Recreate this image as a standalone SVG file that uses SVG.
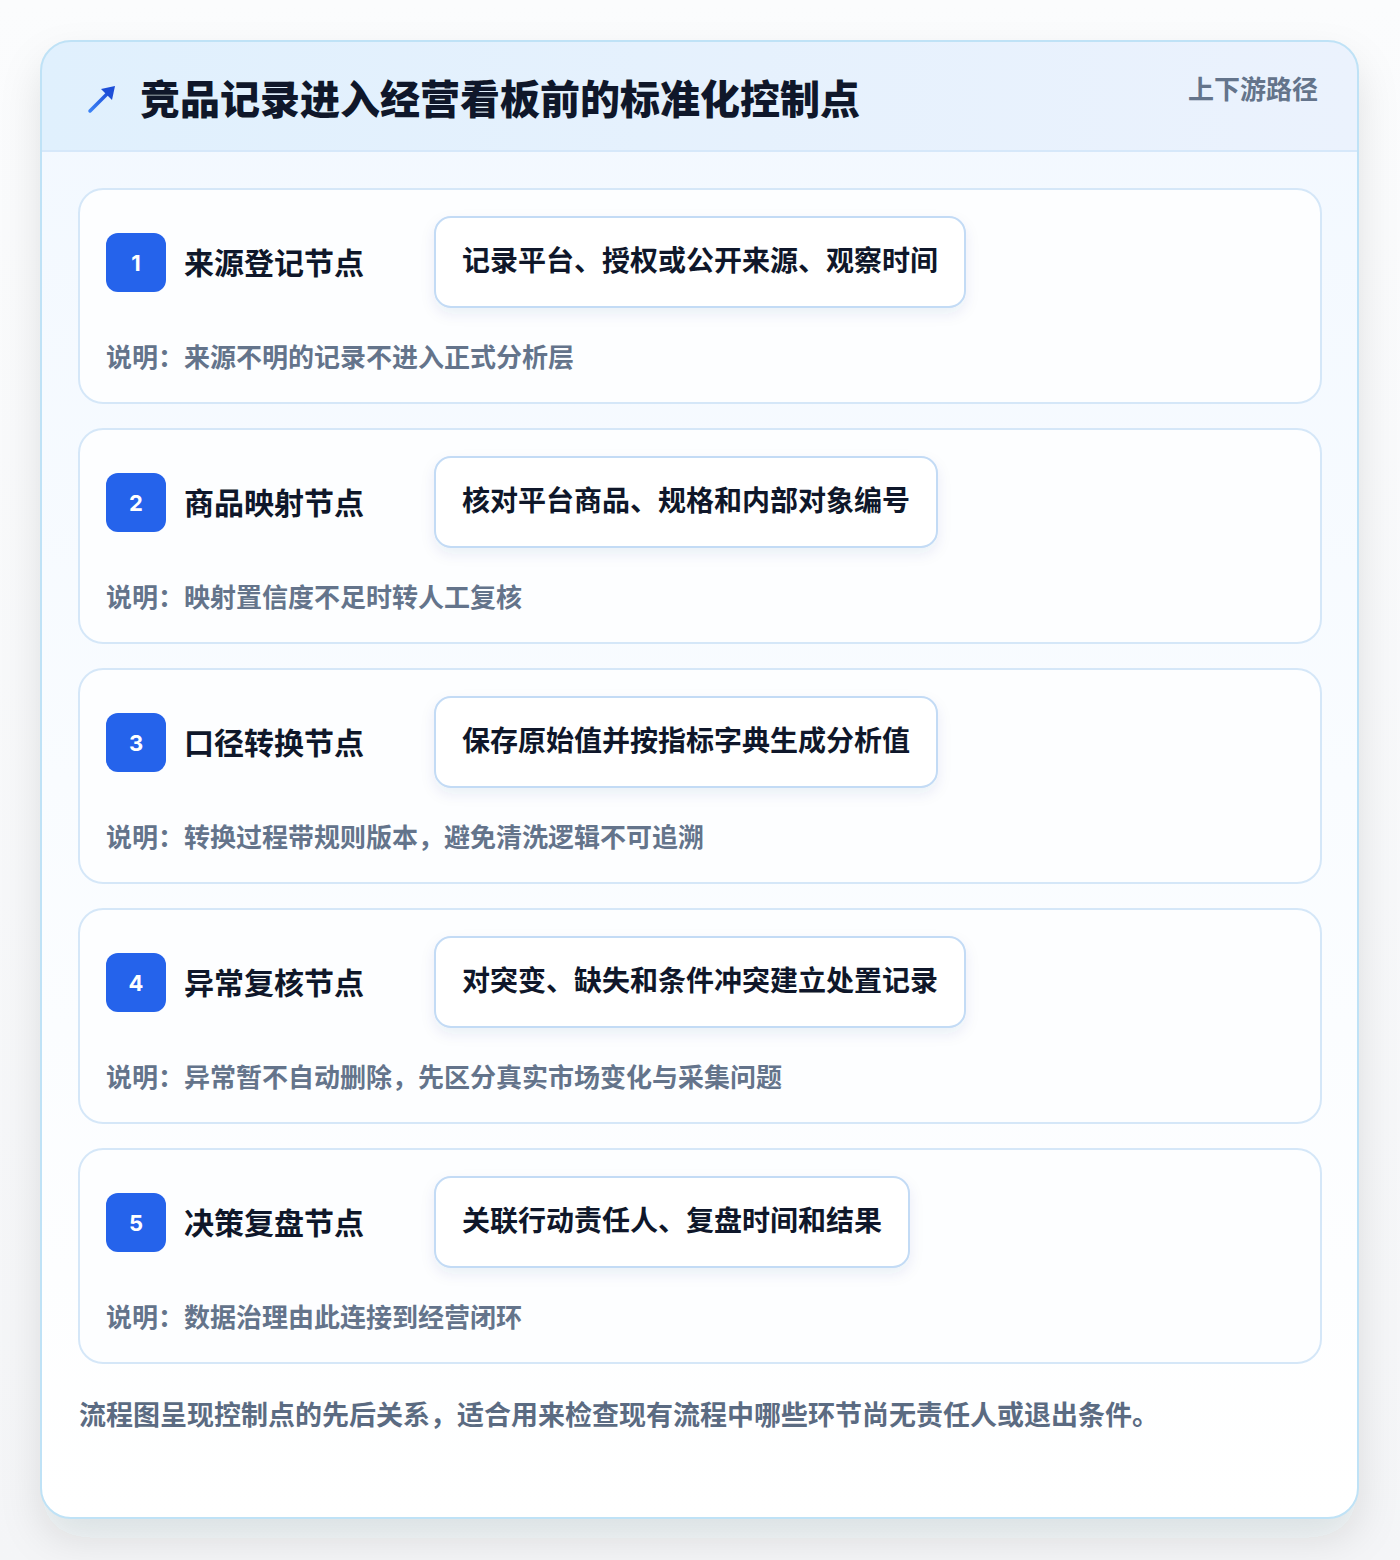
<svg xmlns="http://www.w3.org/2000/svg" width="1400" height="1560" viewBox="0 0 1400 1560">
<defs>
<linearGradient id="pageBg" x1="0" y1="0" x2="0" y2="1"><stop offset="0" stop-color="#fbfcfd"/><stop offset="1" stop-color="#f4f5f7"/></linearGradient>
<linearGradient id="cardBg" x1="0" y1="0" x2="0" y2="1"><stop offset="0" stop-color="#f2f8ff"/><stop offset="0.5" stop-color="#f9fcff"/><stop offset="1" stop-color="#ffffff"/></linearGradient>
<linearGradient id="headBg" x1="0" y1="0" x2="1" y2="0"><stop offset="0" stop-color="#e0f0fd"/><stop offset="1" stop-color="#ebf2fd"/></linearGradient>
<linearGradient id="arrowG" x1="0" y1="1" x2="1" y2="0"><stop offset="0" stop-color="#3b82f6"/><stop offset="1" stop-color="#1d4ed8"/></linearGradient>
<clipPath id="cardClip"><rect x="41" y="41" width="1317" height="1477" rx="30"/></clipPath>
<filter id="cardShadow" x="-10%" y="-10%" width="120%" height="120%"><feDropShadow dx="0" dy="20" stdDeviation="20" flood-color="#1f2937" flood-opacity="0.11"/></filter>
<filter id="pillShadow" x="-10%" y="-30%" width="120%" height="170%"><feDropShadow dx="0" dy="6" stdDeviation="7" flood-color="#1e3a8a" flood-opacity="0.08"/></filter>
<style>
.node-card{fill:#fdfeff;stroke:#d5e7f8;stroke-width:2}
.badge{fill:#2563eb}
.num{font-family:"Inter","Liberation Sans",sans-serif;font-weight:700;font-size:22px;fill:#ffffff;text-anchor:middle}
.title{font-family:"Noto Sans CJK SC","Noto Sans",sans-serif;font-weight:700;font-size:30px;fill:#0f172a}
.pill{fill:#ffffff;stroke:#c3dbf5;stroke-width:2}
.pilltxt{font-family:"Noto Sans CJK SC","Noto Sans",sans-serif;font-weight:700;font-size:28px;fill:#0f172a}
.desc{font-family:"Noto Sans CJK SC","Noto Sans",sans-serif;font-weight:700;font-size:26px;fill:#64748b}
</style>
</defs>
<rect x="0" y="0" width="1400" height="1560" fill="url(#pageBg)"/>
<g id="card">
<rect x="41" y="41" width="1317" height="1477" rx="30" fill="url(#cardBg)" filter="url(#cardShadow)"/>
<g clip-path="url(#cardClip)">
<rect x="41" y="41" width="1317" height="110" fill="url(#headBg)"/>
<line x1="41" y1="151" x2="1358" y2="151" stroke="#d6e8fa" stroke-width="2"/>
</g>
<rect x="41" y="41" width="1317" height="1477" rx="30" fill="none" stroke="#bfe2f6" stroke-width="2"/>
</g>
<g id="header">
<path d="M90 111 L109 92" stroke="url(#arrowG)" stroke-width="3.5" stroke-linecap="round"/>
<path d="M115 86 L112 100 L101 89 Z" fill="#1d4ed8"/>
<text x="140" y="114" font-family="Noto Sans CJK SC, Noto Sans, sans-serif" font-weight="900" font-size="40" fill="#0f172a">竞品记录进入经营看板前的标准化控制点</text>
<text x="1318" y="99" text-anchor="end" font-family="Noto Sans CJK SC, Noto Sans, sans-serif" font-weight="700" font-size="26" fill="#64748b">上下游路径</text>
</g>
<g id="connectors"></g>
<g id="node1">
<rect class="node-card" x="79" y="189" width="1242" height="214" rx="24"/>
<rect class="badge" x="106" y="233" width="60" height="59" rx="12"/>
<text class="num" x="136" y="271">1</text>
<text class="title" x="184" y="274">来源登记节点</text>
<rect class="pill" x="435" y="217" width="530" height="90" rx="16" filter="url(#pillShadow)"/>
<text class="pilltxt" x="462" y="271">记录平台、授权或公开来源、观察时间</text>
<text class="desc" x="106" y="367">说明：来源不明的记录不进入正式分析层</text>
</g>
<g id="node2">
<rect class="node-card" x="79" y="429" width="1242" height="214" rx="24"/>
<rect class="badge" x="106" y="473" width="60" height="59" rx="12"/>
<text class="num" x="136" y="511">2</text>
<text class="title" x="184" y="514">商品映射节点</text>
<rect class="pill" x="435" y="457" width="502" height="90" rx="16" filter="url(#pillShadow)"/>
<text class="pilltxt" x="462" y="511">核对平台商品、规格和内部对象编号</text>
<text class="desc" x="106" y="607">说明：映射置信度不足时转人工复核</text>
</g>
<g id="node3">
<rect class="node-card" x="79" y="669" width="1242" height="214" rx="24"/>
<rect class="badge" x="106" y="713" width="60" height="59" rx="12"/>
<text class="num" x="136" y="751">3</text>
<text class="title" x="184" y="754">口径转换节点</text>
<rect class="pill" x="435" y="697" width="502" height="90" rx="16" filter="url(#pillShadow)"/>
<text class="pilltxt" x="462" y="751">保存原始值并按指标字典生成分析值</text>
<text class="desc" x="106" y="847">说明：转换过程带规则版本，避免清洗逻辑不可追溯</text>
</g>
<g id="node4">
<rect class="node-card" x="79" y="909" width="1242" height="214" rx="24"/>
<rect class="badge" x="106" y="953" width="60" height="59" rx="12"/>
<text class="num" x="136" y="991">4</text>
<text class="title" x="184" y="994">异常复核节点</text>
<rect class="pill" x="435" y="937" width="530" height="90" rx="16" filter="url(#pillShadow)"/>
<text class="pilltxt" x="462" y="991">对突变、缺失和条件冲突建立处置记录</text>
<text class="desc" x="106" y="1087">说明：异常暂不自动删除，先区分真实市场变化与采集问题</text>
</g>
<g id="node5">
<rect class="node-card" x="79" y="1149" width="1242" height="214" rx="24"/>
<rect class="badge" x="106" y="1193" width="60" height="59" rx="12"/>
<text class="num" x="136" y="1231">5</text>
<text class="title" x="184" y="1234">决策复盘节点</text>
<rect class="pill" x="435" y="1177" width="474" height="90" rx="16" filter="url(#pillShadow)"/>
<text class="pilltxt" x="462" y="1231">关联行动责任人、复盘时间和结果</text>
<text class="desc" x="106" y="1327">说明：数据治理由此连接到经营闭环</text>
</g>
<g id="footer">
<text x="79" y="1425" font-family="Noto Sans CJK SC, Noto Sans, sans-serif" font-weight="700" font-size="27" fill="#5b6b82">流程图呈现控制点的先后关系，适合用来检查现有流程中哪些环节尚无责任人或退出条件。</text>
</g>
</svg>
